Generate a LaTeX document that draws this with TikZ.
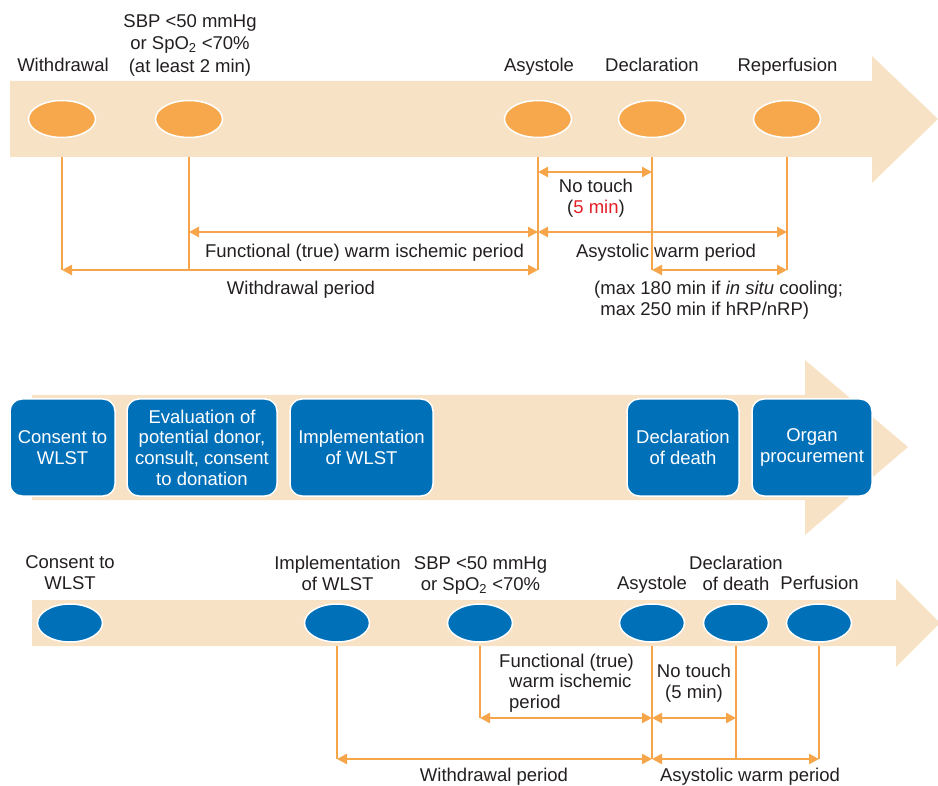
\documentclass[tikz,border=0pt]{standalone}
\usepackage{fontspec}
\setmainfont{Liberation Sans}
\usetikzlibrary{shapes.geometric,arrows.meta}
\definecolor{beige}{HTML}{F8E2C5}
\definecolor{orangef}{HTML}{F7A84C}
\definecolor{lineor}{HTML}{F7A54A}
\definecolor{blued}{HTML}{0070B9}
\definecolor{redt}{HTML}{E31E24}
\definecolor{txtc}{HTML}{231F20}
\begin{document}
\begin{tikzpicture}[x=1pt,y=-1pt,
  txt/.style={font=\fontsize{18.5}{21}\selectfont, text=txtc, align=center, inner sep=0pt},
  oev/.style={ellipse, fill=orangef, draw=white, line width=1.5pt, minimum width=67pt, minimum height=37pt, inner sep=0pt},
  bev/.style={ellipse, fill=blued, draw=white, line width=1.5pt, minimum width=65pt, minimum height=38pt, inner sep=0pt},
  bbox/.style={rectangle, rounded corners=12pt, fill=blued, draw=white, line width=1.5pt, text=white,
    font=\fontsize{18.5}{20.7}\selectfont, align=center, inner sep=0pt, minimum height=97pt},
  vln/.style={draw=lineor, line width=2.4pt},
  dimar/.style={draw=lineor, line width=2.4pt, {Triangle[length=10pt,width=10pt]}-{Triangle[length=10pt,width=10pt]}},
  band/.style={fill=beige}
]
\useasboundingbox (0,0) rectangle (938,786);

% ---------- TOP ----------
\fill[band] (10,81) -- (872,81) -- (872,56) -- (938,119) -- (872,183) -- (872,157) -- (10,157) -- cycle;
\node[oev] (e1) at (62,119) {};
\node[oev] (e2) at (189,119) {};
\node[oev] (e3) at (538,119) {};
\node[oev] (e4) at (652,119) {};
\node[oev] (e5) at (787,119) {};

\node[txt] (l1) at (63,65) {Withdrawal};
\node[txt, font=\fontsize{18.5}{22.5}\selectfont] (l2) at (190,45) {SBP <50 mmHg\\or SpO\textsubscript{2} <70\%\\(at least 2 min)};
\node[txt] (l3) at (539,67) {Asystole};
\node[txt] (l4) at (652,65) {Declaration};
\node[txt] (l5) at (787.5,67) {Reperfusion};

\coordinate (a1) at (62,157);  \coordinate (a1b) at (62,270);
\coordinate (a2) at (189,157); \coordinate (a2b) at (189,270); \coordinate (a2m) at (189,232);
\coordinate (a3) at (538,157); \coordinate (a3b) at (538,270); \coordinate (a3m) at (538,232); \coordinate (a3t) at (538,172);
\coordinate (a4) at (652,157); \coordinate (a4b) at (652,270); \coordinate (a4t) at (652,172);
\coordinate (a5) at (787,157); \coordinate (a5b) at (787,270); \coordinate (a5m) at (787,232);

\draw[vln] (a1) -- (a1b);
\draw[vln] (a2) -- (a2b);
\draw[vln] (a3) -- (a3b);
\draw[vln] (a4) -- (a4b);
\draw[vln] (a5) -- (a5b);

\draw[dimar] (a3t) -- (a4t);
\draw[dimar] (a2m) -- (a3m);
\draw[dimar] (a3m) -- (a5m);
\draw[dimar] (a1b) -- (a3b);
\draw[dimar] (a4b) -- (a5b);

\node[txt] (nt) at (596,198) {No touch\\(\textcolor{redt}{5 min})};
\node[txt] (fw) at (364.5,253) {Functional (true) warm ischemic period};
\node[txt] (aw) at (666,253) {Asystolic warm period};
\node[txt] (wp) at (301,290) {Withdrawal period};
\node[txt, align=left, anchor=west] (mx) at (594,300) {(max 180 min if \textit{in situ} cooling;\\\phantom{(}max 250 min if hRP/nRP)};

% ---------- MIDDLE ----------
\fill[band] (32,395) -- (805,395) -- (805,360) -- (908,447) -- (805,535) -- (805,500) -- (32,500) -- cycle;
\node[bbox, minimum width=105pt] (b1) at (62.5,447.5) {Consent to\\WLST};
\node[bbox, minimum width=150pt] (b2) at (202,447.5) {Evaluation of\\potential donor,\\consult, consent\\to donation};
\node[bbox, minimum width=143pt] (b3) at (361.5,447.5) {Implementation\\of WLST};
\node[bbox, minimum width=112pt] (b4) at (683,447.5) {Declaration\\of death};
\node[bbox, minimum width=120pt] (b5) at (812,447.5) {Organ\\procurement};

% ---------- BOTTOM ----------
\fill[band] (32,600) -- (896,600) -- (896,579) -- (940,623) -- (896,667) -- (896,646) -- (32,646) -- cycle;
\node[bev] (f1) at (70,623) {};
\node[bev] (f2) at (337,623) {};
\node[bev] (f3) at (480,623) {};
\node[bev] (f4) at (652,623) {};
\node[bev] (f5) at (736,623) {};
\node[bev] (f6) at (819,623) {};

\node[txt] (m1) at (70,573) {Consent to\\WLST};
\node[txt] (m2) at (337.5,573) {Implementation\\of WLST};
\node[txt] (m3) at (480.5,575) {SBP <50 mmHg\\or SpO\textsubscript{2} <70\%};
\node[txt] (m4) at (652,585) {Asystole};
\node[txt] (m5) at (736,573) {Declaration\\of death};
\node[txt] (m6) at (819.5,583) {Perfusion};

\coordinate (c2) at (337,646); \coordinate (c2b) at (337,759);
\coordinate (c3) at (480,646); \coordinate (c3b) at (480,718);
\coordinate (c4) at (652,646); \coordinate (c4b) at (652,759); \coordinate (c4m) at (652,718);
\coordinate (c5) at (736,646); \coordinate (c5b) at (736,759); \coordinate (c5m) at (736,718);
\coordinate (c6) at (819,646); \coordinate (c6b) at (819,759);

\draw[vln] (c2) -- (c2b);
\draw[vln] (c3) -- (c3b);
\draw[vln] (c4) -- (c4b);
\draw[vln] (c5) -- (c5b);
\draw[vln] (c6) -- (c6b);

\draw[dimar] (c3b) -- (c4m);
\draw[dimar] (c4m) -- (c5m);
\draw[dimar] (c2b) -- (c4b);
\draw[dimar] (c4b) -- (c6b);

\node[txt, align=left, anchor=west, font=\fontsize{18.5}{20.5}\selectfont] (g1) at (499,683) {Functional (true)\\\hspace*{10pt}warm ischemic\\\hspace*{10pt}period};
\node[txt] (g2) at (694,683) {No touch\\(5 min)};
\node[txt] (g3) at (494,777) {Withdrawal period};
\node[txt] (g4) at (750,777) {Asystolic warm period};
\end{tikzpicture}
\end{document}
